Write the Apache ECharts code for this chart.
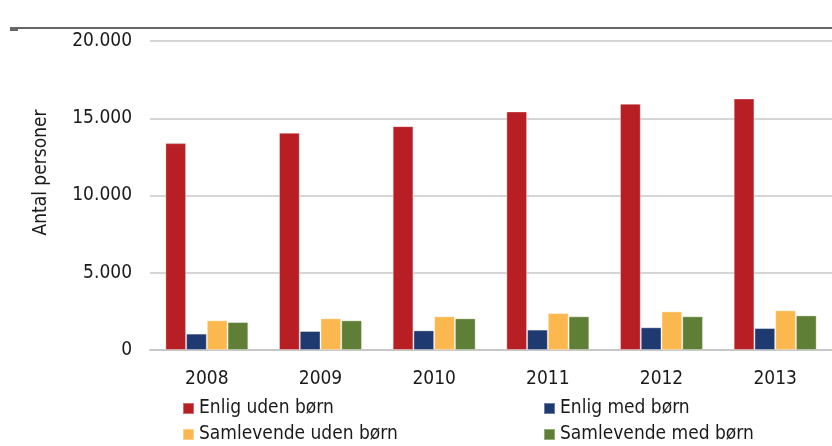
<!DOCTYPE html>
<html>
<head>
<meta charset="utf-8">
<script src="https://cdn.jsdelivr.net/npm/echarts@6/dist/echarts.min.js"></script>
<style>
  html, body { margin: 0; padding: 0; background: #fff; }
  #chart { width: 832px; height: 446px; }
</style>
</head>
<body>
<div id="chart"></div>
<script>
var years = ['2008', '2009', '2010', '2011', '2012', '2013'];
var enligUden = [13390, 14060, 14490, 15440, 15940, 16280];
var enligMed = [1060, 1230, 1270, 1320, 1470, 1420];
var samlUden = [1920, 2050, 2180, 2390, 2500, 2570];
var samlMed = [1810, 1920, 2050, 2180, 2180, 2240];
var yTicks = [0, 5000, 10000, 15000, 20000];

var font = "'DejaVu Sans Condensed', 'Roboto', sans-serif";

function fmt(v) {
  return String(v).replace(/\B(?=(\d{3})+(?!\d))/g, '.');
}

function bar(name, data, color) {
  return {
    name: name,
    type: 'bar',
    data: data,
    barGap: 0,
    barCategoryGap: '27%',
    itemStyle: { color: color, borderColor: 'rgba(255,255,255,0.35)', borderWidth: 1 }
  };
}

function legendItem(name, left, top) {
  return {
    left: left,
    top: top,
    itemWidth: 11,
    itemHeight: 11,
    itemGap: 0,
    icon: 'rect',
    data: [name],
    textStyle: { fontFamily: font, fontSize: 19, color: '#1a1a1a', padding: [0, 0, 0, 0] }
  };
}

var chartDom = document.getElementById('chart');
var myChart = echarts.init(chartDom);
var option;

option = {
  animation: false,
  textStyle: { fontFamily: font },
  grid: { left: 150, right: 0, top: 41, bottom: 96 },
  legend: [
    legendItem('Enlig uden børn', 177, 394),
    legendItem('Samlevende uden børn', 177, 420),
    legendItem('Enlig med børn', 538, 394),
    legendItem('Samlevende med børn', 538, 420)
  ],
  xAxis: {
    type: 'category',
    data: years,
    axisLine: { lineStyle: { color: '#c8c8c8', width: 2 } },
    axisTick: { show: false },
    axisLabel: { fontFamily: font, fontSize: 19, color: '#1a1a1a', margin: 20 }
  },
  yAxis: {
    type: 'value',
    min: yTicks[0],
    max: yTicks[yTicks.length - 1],
    interval: yTicks[1] - yTicks[0],
    name: 'Antal personer',
    nameLocation: 'middle',
    nameGap: 99,
    nameTextStyle: { fontFamily: font, fontSize: 19, color: '#1a1a1a', padding: [0, 0, 0, 46] },
    axisLine: { show: false },
    axisTick: { show: false },
    splitLine: { lineStyle: { color: '#d6d6d6', width: 2 } },
    axisLabel: {
      fontFamily: font, fontSize: 19, color: '#1a1a1a', margin: 18,
      formatter: function (v) { return fmt(v); }
    }
  },
  graphic: [
    { type: 'line', shape: { x1: 10, y1: 28, x2: 832, y2: 28 }, style: { stroke: '#666', lineWidth: 2 } },
    { type: 'line', shape: { x1: 10, y1: 30, x2: 18, y2: 30 }, style: { stroke: '#666', lineWidth: 2 } }
  ],
  series: [
    bar('Enlig uden børn', enligUden, '#B81F24'),
    bar('Enlig med børn', enligMed, '#1F3A70'),
    bar('Samlevende uden børn', samlUden, '#FBB84F'),
    bar('Samlevende med børn', samlMed, '#5E7F35')
  ]
};

option && myChart.setOption(option);
</script>
</body>
</html>
